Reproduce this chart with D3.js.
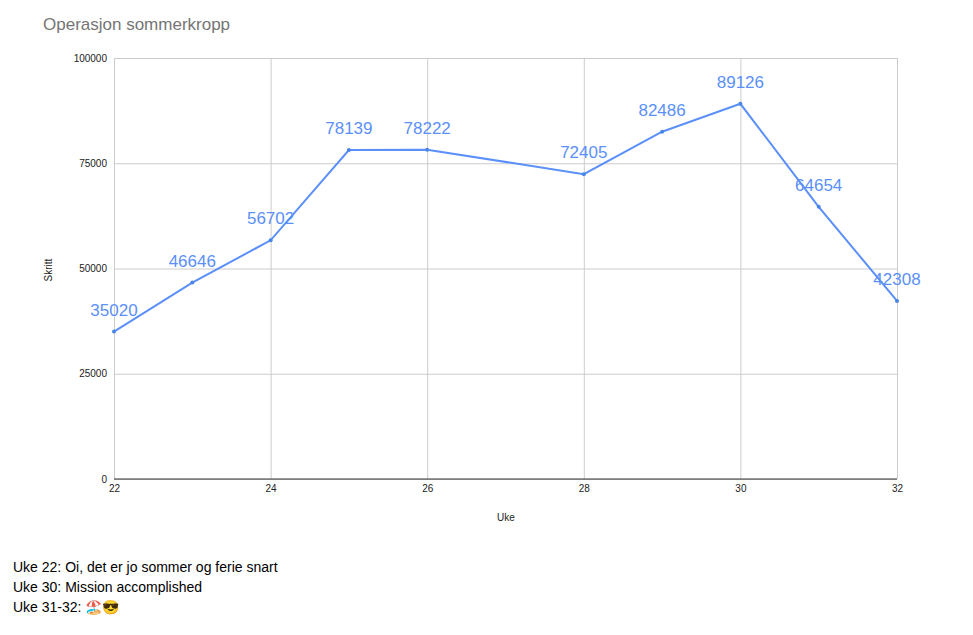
<!DOCTYPE html>
<html><head><meta charset="utf-8">
<script src="https://cdn.jsdelivr.net/npm/d3@7"></script>
<style>body{margin:0;background:#fff;font-family:Arial,"Liberation Sans",sans-serif}</style>
</head><body>
<svg id="c" width="973" height="635"></svg>
<script>
const weeks = [22,23,24,25,26,28,29,30,31,32];
const steps = [35020,46646,56702,78139,78222,72405,82486,89126,64654,42308];
const xTicks = [22,24,26,28,30,32];
const yTicks = [0,25000,50000,75000,100000];
const notes = ["Uke 22: Oi, det er jo sommer og ferie snart","Uke 30: Mission accomplished","Uke 31-32: 🏖️😎"];

const svg = d3.select("#c");
const x = d3.scaleLinear().domain([22,32]).range([114,897]);
const y = d3.scaleLinear().domain([0,100000]).range([479,58]);

svg.append("text").attr("x",43).attr("y",30).attr("fill","#757575").attr("font-size",17).text("Operasjon sommerkropp");

const gy = svg.append("g").attr("transform","translate(114,0)")
  .call(d3.axisLeft(y).tickValues(yTicks).tickSize(-783).tickFormat(d3.format("d")));
gy.select(".domain").remove();
gy.selectAll("line").attr("stroke","#ccc");
gy.selectAll("text").attr("font-size",10).attr("fill","#222").attr("x",-7);

const gx = svg.append("g").attr("transform","translate(0,479)")
  .call(d3.axisBottom(x).tickValues(xTicks).tickSize(-421).tickFormat(d3.format("d")));
gx.select(".domain").remove();
gx.selectAll("line").attr("stroke","#ccc");
gx.selectAll("text").attr("font-size",10).attr("fill","#222").attr("y",6);
svg.append("line").attr("x1",114).attr("x2",897).attr("y1",479).attr("y2",479).attr("stroke","#333");

svg.append("text").attr("transform","translate(52,270) rotate(-90)").attr("text-anchor","middle").attr("font-size",10).attr("fill","#222").text("Skritt");
svg.append("text").attr("x",506).attr("y",521).attr("text-anchor","middle").attr("font-size",10).attr("fill","#222").text("Uke");

const data = weeks.map((w,i)=>({w,v:steps[i]}));
svg.append("path").datum(data).attr("fill","none").attr("stroke","#5b8ff9").attr("stroke-width",2)
  .attr("d",d3.line().x(d=>x(d.w)).y(d=>y(d.v)));
svg.selectAll("circle.p").data(data).enter().append("circle").attr("cx",d=>x(d.w)).attr("cy",d=>y(d.v)).attr("r",2).attr("fill","#4a86e8");
svg.selectAll("text.l").data(data).enter().append("text").attr("x",d=>x(d.w)).attr("y",d=>y(d.v)-16)
  .attr("text-anchor","middle").attr("font-size",17).attr("fill","#5b8ff9").text(d=>d.v);

svg.selectAll("text.n").data(notes).enter().append("text").attr("x",13).attr("y",(d,i)=>572+i*20)
  .attr("font-size",14).attr("fill","#000").text(d=>d);
</script>
</body></html>
